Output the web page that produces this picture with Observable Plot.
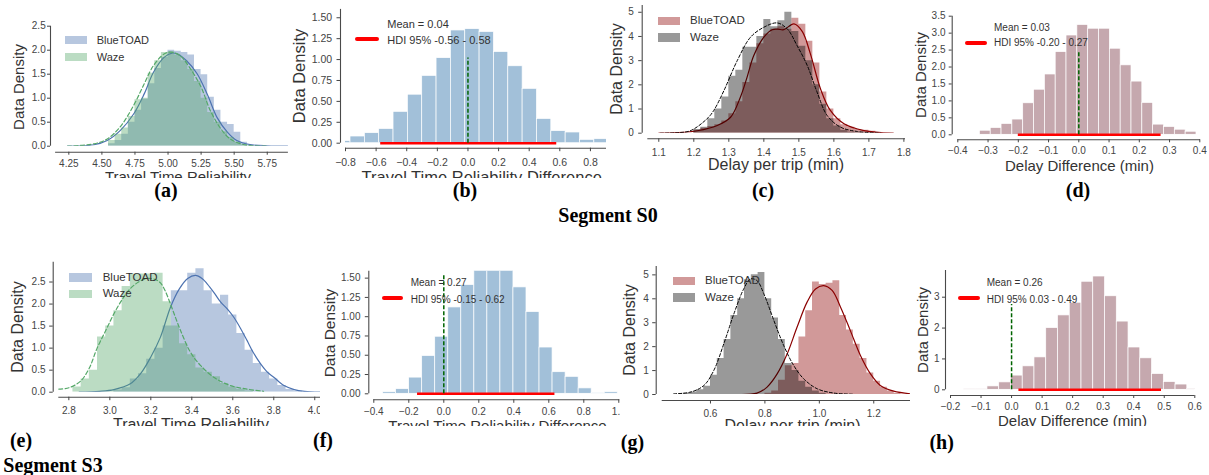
<!DOCTYPE html>
<html><head><meta charset="utf-8">
<script src="https://cdn.jsdelivr.net/npm/d3@7"></script>
<script src="https://cdn.jsdelivr.net/npm/@observablehq/plot@0.6"></script>
<style>
html,body{margin:0;padding:0;background:#fff;width:1209px;height:475px;overflow:hidden;}
#root{position:relative;width:1209px;height:475px;overflow:hidden;font-family:"Liberation Sans",Arial,Helvetica,sans-serif;}
.panel{position:absolute;overflow:hidden;}
.panel svg{position:absolute;left:0;top:0;}
.t{position:absolute;white-space:nowrap;line-height:1;color:#333;}
.sw{position:absolute;}
.cap{position:absolute;font-family:"Liberation Serif","Times New Roman",serif;font-weight:bold;font-size:20px;white-space:nowrap;line-height:1;color:#000;}
</style></head><body><div id="root"></div><script>
// ---------------- DATA ----------------
// (a) Segment S0, Travel Time Reliability
const aBinStart = 4.55, aBinWidth = 0.05;
const aBlueToadHist = [0.05,0.12,0.25,0.5,0.75,0.98,1.3,1.62,1.85,2.0,1.98,1.95,1.9,1.6,1.49,1.02,0.75,0.5,0.45,0.29,0.08,0.03];
const aWazeHist = [0.12,0.25,0.38,0.62,0.97,1.0,1.52,1.78,1.95,1.97,1.9,1.78,1.6,1.35,1.0,0.7,0.5,0.3,0.18,0.08,0.03];
const aBlueToadKdeX = [4.24,4.44,4.54,4.64,4.74,4.82,4.89,4.97,5.03,5.07,5.14,5.22,5.30,5.37,5.45,5.52,5.62,5.75,5.91];
const aBlueToadKdeY = [0,0.03,0.12,0.33,0.67,1.09,1.54,1.85,1.94,1.92,1.78,1.51,1.06,0.6,0.29,0.12,0.035,0.007,0];
const aWazeKdeX = [4.24,4.44,4.54,4.64,4.74,4.82,4.89,4.97,5.02,5.09,5.17,5.25,5.32,5.40,5.47,5.55,5.65,5.75];
const aWazeKdeY = [0,0.05,0.15,0.41,0.85,1.3,1.68,1.92,1.96,1.89,1.61,1.23,0.74,0.36,0.15,0.05,0.007,0];
const aXTicks = [4.25,4.5,4.75,5.0,5.25,5.5,5.75];
const aYTicks = [0,0.5,1,1.5,2,2.5];

// (b) Segment S0, Travel Time Reliability Difference
const bBinStart = -0.861, bBinWidth = 0.0937;
const bHist = [0.025,0.08,0.12,0.17,0.375,0.58,0.805,1.017,1.348,1.364,1.33,1.09,0.92,0.65,0.29,0.144,0.128,0.04,0.048];
const bZeroTop = 1.02;
const bHdi = [-0.57, 0.58];
const bLegend = ["Mean = 0.04", "HDI 95% -0.56 - 0.58"];
const bXTicks = [-0.8,-0.6,-0.4,-0.2,0,0.2,0.4,0.6,0.8];
const bYTicks = [0,0.25,0.5,0.75,1,1.25,1.5];

// (c) Segment S0, Delay per trip
const cBinStart = 1.20, cBinWidth = 0.02;
const cBlueToadHist = [0.12,0.2,0.28,0.35,0.5,0.8,1.3,2.1,2.9,3.7,4.1,4.3,4.4,4.3,4.75,4.5,3.8,2.9,1.7,1.0,0.6,0.35,0.25,0.15,0.12,0.08];
const cWazeHist = [0.15,0.25,0.6,1.0,1.5,2.35,2.6,3.55,3.55,4.0,4.7,4.4,4.65,5.0,4.2,3.6,3.0,2.0,1.2,0.6,0.3,0.12,0.05,0.02];
const cBlueToadKdeX = [1.1,1.15,1.21,1.267,1.305,1.333,1.352,1.371,1.4,1.424,1.44,1.457,1.486,1.51,1.533,1.562,1.59,1.629,1.686,1.77];
const cBlueToadKdeY = [0,0.02,0.1,0.32,0.66,1.49,2.31,3.2,3.97,4.28,4.3,4.28,4.52,4.2,3.28,1.83,0.94,0.39,0.11,0];
const cWazeKdeX = [1.105,1.15,1.19,1.238,1.257,1.286,1.324,1.362,1.4,1.438,1.467,1.495,1.524,1.552,1.581,1.619,1.667,1.733];
const cWazeKdeY = [0,0.02,0.1,0.6,0.94,1.76,3.0,3.97,4.38,4.56,4.31,3.62,2.8,1.7,0.73,0.25,0.07,0];
const cXTicks = [1.1,1.2,1.3,1.4,1.5,1.6,1.7,1.8];
const cYTicks = [0,1,2,3,4,5];

// (d) Segment S0, Delay Difference
const dBinStart = -0.327, dBinWidth = 0.0358;
const dHist = [0.12,0.2,0.32,0.45,0.93,1.33,1.78,2.44,2.93,3.24,3.13,3.13,2.54,2.05,1.57,0.94,0.3,0.23,0.15,0.09];
const dZeroTop = 2.44;
const dHdi = [-0.2, 0.272];
const dLegend = ["Mean = 0.03", "HDI 95% -0.20 - 0.27"];
const dXTicks = [-0.4,-0.3,-0.2,-0.1,0,0.1,0.2,0.3,0.4];
const dYTicks = [0,0.5,1,1.5,2,2.5,3,3.5];

// (e) Segment S3, Travel Time Reliability
const eWazeBinStart = 2.82, eBlueToadBinStart = 3.02, eBinWidth = 0.04;
const eWazeHist = [0.12,0.3,0.5,1.25,1.5,1.85,2.4,2.68,2.68,2.68,2.7,2.05,1.5,1.1,0.85,0.55,0.45,0.35,0.2,0.12,0.06,0.03];
const eBlueToadHist = [0.05,0.1,0.3,0.42,0.75,1.0,1.5,2.3,2.3,2.7,2.8,2.3,2.0,2.2,1.75,1.33,0.95,0.65,0.45,0.3,0.15,0.06,0.02];
const eWazeKdeX = [2.75,2.8,2.857,2.9,2.938,2.98,3.02,3.06,3.1,3.14,3.18,3.22,3.247,3.27,3.296,3.32,3.345,3.393,3.442,3.507,3.589,3.67,3.75];
const eWazeKdeY = [0.07,0.1,0.25,0.55,1.0,1.4,1.78,2.1,2.35,2.5,2.58,2.56,2.48,2.3,2.0,1.7,1.4,0.91,0.61,0.34,0.15,0.07,0.02];
const eBlueToadKdeX = [2.85,2.95,3.02,3.1,3.15,3.2,3.247,3.296,3.34,3.38,3.418,3.45,3.475,3.51,3.54,3.575,3.605,3.64,3.67,3.7,3.735,3.77,3.8,3.85,3.9,3.95,4.03];
const eBlueToadKdeY = [0,0.02,0.06,0.19,0.42,0.8,1.25,1.93,2.35,2.58,2.65,2.58,2.46,2.25,2.05,1.88,1.7,1.43,1.17,0.9,0.65,0.45,0.34,0.15,0.06,0.02,0];
const eXTicks = [2.8,3.0,3.2,3.4,3.6,3.8,4.0];
const eYTicks = [0,0.5,1,1.5,2,2.5];

// (f) Segment S3, Travel Time Reliability Difference
const fBinStart = -0.347, fBinWidth = 0.0745;
const fHist = [0.02,0.06,0.21,0.49,0.74,1.12,1.41,1.7,1.75,1.68,1.38,1.06,0.6,0.28,0.22,0.07,0.01,0.02];
const fZeroTop = 1.55;
const fHdi = [-0.15, 0.635];
const fLegend = ["Mean = 0.27", "HDI 95% -0.15 - 0.62"];
const fXTicks = [-0.4,-0.2,0,0.2,0.4,0.6,0.8,1.0];
const fYTicks = [0,0.25,0.5,0.75,1,1.25,1.5];

// (g) Segment S3, Delay per trip
const gWazeBinStart = 0.50, gBlueToadBinStart = 0.80, gBinWidth = 0.025;
const gWazeHist = [0.05,0.1,0.2,0.35,0.8,1.5,2.3,3.3,4.0,4.8,5.0,5.1,4.0,3.2,2.3,1.3,1.0,0.55,0.3,0.15,0.05];
const gBlueToadHist = [0.05,0.15,0.6,1.2,1.3,2.4,3.5,4.7,4.6,4.65,4.75,3.3,2.7,2.1,1.5,0.9,0.55,0.3,0.15,0.05];
const gWazeKdeX = [0.465,0.527,0.576,0.612,0.649,0.686,0.722,0.747,0.771,0.796,0.833,0.869,0.906,0.943,0.992,1.053,1.127];
const gWazeKdeY = [0.03,0.1,0.38,1.0,2.12,3.37,4.41,4.83,4.76,4.21,3.09,2.05,1.21,0.65,0.24,0.06,0.01];
const gBlueToadKdeX = [0.673,0.771,0.808,0.845,0.882,0.918,0.955,0.986,1.016,1.047,1.078,1.114,1.151,1.188,1.224,1.273,1.335];
const gBlueToadKdeY = [0,0.06,0.31,0.86,1.7,2.81,3.86,4.41,4.55,4.35,3.65,2.67,1.63,0.86,0.38,0.14,0.03];
const gXTicks = [0.6,0.8,1.0,1.2];
const gYTicks = [0,1,2,3,4,5];

// (h) Segment S3, Delay Difference
const hBinStart = -0.156, hBinWidth = 0.0385;
const hHist = [0.02,0.02,0.11,0.24,0.46,0.76,1.05,2.0,2.41,2.82,3.5,3.67,3.03,2.21,1.37,1.02,0.51,0.25,0.17,0.03];
const hZeroTop = 2.76;
const hHdi = [0.024, 0.491];
const hLegend = ["Mean = 0.26", "HDI 95% 0.03 - 0.49"];
const hXTicks = [-0.2,-0.1,0,0.1,0.2,0.3,0.4,0.5,0.6];
const hYTicks = [0,1,2,3];

const seriesNames = ["BlueTOAD", "Waze"];

// ---------------- STYLE ----------------
const FONT = '"Liberation Sans", Arial, Helvetica, sans-serif';
const AXIS = "#4a4a4a", TICK = "#444";
const BLUE = "#4c72b0", GREEN = "#55a868", DARKRED = "#8b0000", BLACK = "#000";
const STEEL = "#4682b4", MAUVE = "#c5a8ae";

const root = document.getElementById("root");
const bins = (start, width, hs) => hs.map((h, i) => ({x1: start + i * width, x2: start + (i + 1) * width, y: h}));
const steps = (start, width, hs) => hs.map((h, i) => ({x: start + i * width, y: h})).concat([{x: start + hs.length * width, y: 0}]);
const pts = (xs, ys) => xs.map((x, i) => ({x, y: ys[i]}));

// overlapping density histograms: one seamless stepped area per series
function stepHist(data, fill, opacity) {
  return Plot.areaY(data, {x: "x", y: "y", curve: "step-after", fill, fillOpacity: opacity, clip: true});
}
// difference histograms: bars with thin white edges
function barHist(data, fill, opacity) {
  return Plot.rectY(data, {x1: "x1", x2: "x2", y: "y", fill, fillOpacity: opacity, stroke: "white", strokeWidth: 0.7, clip: true});
}
function kde(data, stroke, dash, w) {
  return Plot.line(data, {x: "x", y: "y", stroke, strokeWidth: w, strokeDasharray: dash, curve: "catmull-rom", clip: true});
}
function diffMarks(data, zeroTop, hdi, fill, opacity) {
  return [
    barHist(data, fill, opacity),
    Plot.ruleY([0], {x1: hdi[0], x2: hdi[1], stroke: "red", strokeWidth: 2.5}),
    Plot.ruleX([0], {y1: 0, y2: zeroTop, stroke: "darkgreen", strokeWidth: 1.5, strokeDasharray: "4,2"})
  ];
}

function addText(div, L, T, str, x, y, size, mode) {
  const e = document.createElement("div");
  e.className = "t";
  e.textContent = str;
  e.style.fontSize = size + "px";
  e.style.left = (x - L) + "px";
  e.style.top = (y - T) + "px";
  if (mode === "center") e.style.transform = "translate(-50%,-50%)";
  else if (mode === "rot") e.style.transform = "translate(-50%,-50%) rotate(-90deg)";
  else e.style.transform = "translate(0,-50%)";
  div.appendChild(e);
}
function addSwatch(div, L, T, x0, x1, y0, y1, color, round) {
  const e = document.createElement("div");
  e.className = "sw";
  e.style.cssText = `left:${x0 - L}px;top:${y0 - T}px;width:${x1 - x0}px;height:${y1 - y0}px;background:${color};` + (round ? "border-radius:3px;" : "");
  div.appendChild(e);
}

function makePanel(c) {
  const [L, T, W, H] = c.box;
  const [px0, px1, py0, py1] = c.area;
  const div = document.createElement("div");
  div.className = "panel";
  div.style.cssText = `left:${L}px;top:${T}px;width:${W}px;height:${H}px;`;
  const svg = Plot.plot({
    width: W, height: H,
    marginLeft: px0 - L, marginRight: L + W - px1, marginTop: py1 - T, marginBottom: T + H - py0,
    x: {domain: c.xDomain}, y: {domain: c.yDomain},
    style: {background: "transparent", fontFamily: FONT, overflow: "visible"},
    marks: [
      ...c.marks,
      Plot.ruleX([c.xDomain[0]], {y1: c.yDomain[0], y2: c.yDomain[1], dx: -c.offL, stroke: AXIS, strokeWidth: 1.1}),
      Plot.ruleY([c.yDomain[0]], {x1: c.xDomain[0], x2: c.xDomain[1], dy: c.offB, stroke: AXIS, strokeWidth: 1.1}),
      Plot.axisY(c.yTicks, {anchor: "left", dx: -c.offL, tickSize: c.tick, tickPadding: c.yPad, tickFormat: d3.format(c.yFmt), fontSize: c.font, color: TICK, label: null}),
      Plot.axisX(c.xTicks, {anchor: "bottom", dy: c.offB, tickSize: c.tick, tickPadding: c.xPad, tickFormat: d3.format(c.xFmt), fontSize: c.font, color: TICK, label: null})
    ]
  });
  div.appendChild(svg);
  addText(div, L, T, "Data Density", c.yLab[0], c.yLab[1], c.yLab[2], "rot");
  addText(div, L, T, c.xLabel, c.xLab[0], c.xLab[1], c.xLab[2], "center");
  if (c.legend) c.legend(div, L, T);
  root.appendChild(div);
}

function seriesLegend(colors, x0, x1, ys, tx, size) {
  return (div, L, T) => {
    ys.forEach((yy, i) => {
      addSwatch(div, L, T, x0, x1, yy[0], yy[1], colors[i], false);
      addText(div, L, T, seriesNames[i], tx, (yy[0] + yy[1]) / 2, size, "left");
    });
  };
}
function diffLegend(lines, sx0, sx1, sy, tx, ty0, ty1, size) {
  return (div, L, T) => {
    addSwatch(div, L, T, sx0, sx1, sy - 2, sy + 2, "red", true);
    addText(div, L, T, lines[0], tx, ty0, size, "left");
    addText(div, L, T, lines[1], tx, ty1, size, "left");
  };
}

// ---------------- PANELS ----------------
makePanel({
  box: [0, 0, 290, 178], area: [55.1, 287.9, 145.7, 25.7],
  xDomain: [4.15, 5.91], yDomain: [0, 2.5], offL: 5.1, offB: 6,
  xTicks: aXTicks, yTicks: aYTicks, xFmt: ".2f", yFmt: ".1f", font: 10, tick: 3, xPad: 5, yPad: 1.8,
  marks: [
    stepHist(steps(aBinStart, aBinWidth, aBlueToadHist), BLUE, 0.4),
    kde(pts(aBlueToadKdeX, aBlueToadKdeY), BLUE, null, 1.2),
    stepHist(steps(aBinStart, aBinWidth, aWazeHist), GREEN, 0.4),
    kde(pts(aWazeKdeX, aWazeKdeY), GREEN, "4,2.5", 1.2)
  ],
  xLabel: "Travel Time Reliability", yLab: [18, 87, 15], xLab: [178, 176.3, 15],
  legend: seriesLegend(["#b7c7df", "#bbdcc3"], 65, 87.3, [[36, 44], [52.7, 60.7]], 96.7, 11)
});
makePanel({
  box: [290, 0, 318, 178], area: [345, 606, 142.7, 8.9],
  xDomain: [-0.8, 0.905], yDomain: [0, 1.6], offL: 5, offB: 5,
  xTicks: bXTicks, yTicks: bYTicks, xFmt: ".1f", yFmt: ".2f", font: 10.5, tick: 3.5, xPad: 7, yPad: 4.8,
  marks: diffMarks(bins(bBinStart, bBinWidth, bHist), bZeroTop, bHdi, STEEL, 0.5),
  xLabel: "Travel Time Reliability Difference", yLab: [299.3, 75.8, 16.5], xLab: [481.7, 176.8, 16.5],
  legend: diffLegend(bLegend, 355, 379, 39.3, 387.3, 24, 40, 11)
});
makePanel({
  box: [608, 0, 304, 180], area: [647.3, 905, 132.7, 5],
  xDomain: [1.0686, 1.8046], yDomain: [0, 5.28], offL: 5.6, offB: 5.6,
  xTicks: cXTicks, yTicks: cYTicks, xFmt: ".1f", yFmt: "d", font: 10, tick: 3.5, xPad: 6.3, yPad: 4.9,
  marks: [
    stepHist(steps(cBinStart, cBinWidth, cBlueToadHist), DARKRED, 0.4),
    kde(pts(cBlueToadKdeX, cBlueToadKdeY), DARKRED, null, 1.2),
    stepHist(steps(cBinStart, cBinWidth, cWazeHist), BLACK, 0.4),
    kde(pts(cWazeKdeX, cWazeKdeY), BLACK, "3,2", 1)
  ],
  xLabel: "Delay per trip (min)", yLab: [616.7, 69, 16], xLab: [776, 165.2, 16],
  legend: seriesLegend(["#d19999", "#999999"], 658.3, 680, [[16.7, 25], [33.3, 41.7]], 690, 11.5)
});
makePanel({
  box: [912, 0, 297, 180], area: [957.3, 1200, 134.3, 15.7],
  xDomain: [-0.4, 0.4023], yDomain: [0, 3.5], offL: 5.6, offB: 5,
  xTicks: dXTicks, yTicks: dYTicks, xFmt: ".1f", yFmt: ".1f", font: 10, tick: 3, xPad: 4, yPad: 3.7,
  marks: diffMarks(bins(dBinStart, dBinWidth, dHist), dZeroTop, dHdi, MAUVE, 1),
  xLabel: "Delay Difference (min)", yLab: [920, 75, 15], xLab: [1079.5, 164.9, 15],
  legend: diffLegend(dLegend, 965, 987, 42.7, 994, 28, 43, 10)
});
makePanel({
  box: [0, 230, 320, 196], area: [58.3, 320, 391.7, 261.7],
  xDomain: [2.751, 4.028], yDomain: [0, 2.95], offL: 5.6, offB: 5,
  xTicks: eXTicks, yTicks: eYTicks, xFmt: ".1f", yFmt: ".1f", font: 10, tick: 3.5, xPad: 6.2, yPad: 4.2,
  marks: [
    stepHist(steps(eBlueToadBinStart, eBinWidth, eBlueToadHist), BLUE, 0.4),
    kde(pts(eBlueToadKdeX, eBlueToadKdeY), BLUE, null, 1.2),
    stepHist(steps(eWazeBinStart, eBinWidth, eWazeHist), GREEN, 0.4),
    kde(pts(eWazeKdeX, eWazeKdeY), GREEN, "4,2.5", 1.2)
  ],
  xLabel: "Travel Time Reliability", yLab: [18.3, 326.7, 16], xLab: [191, 425.2, 16],
  legend: seriesLegend(["#b7c7df", "#bbdcc3"], 69.3, 91.7, [[273.3, 281.7], [290, 298.3]], 102.7, 11.5)
});
makePanel({
  box: [320, 230, 300, 196], area: [373.3, 619.3, 393.3, 270.7],
  xDomain: [-0.4, 1.0057], yDomain: [0, 1.59], offL: 5, offB: 6,
  xTicks: fXTicks, yTicks: fYTicks, xFmt: ".1f", yFmt: ".2f", font: 10, tick: 3.5, xPad: 5, yPad: 4.8,
  marks: diffMarks(bins(fBinStart, fBinWidth, fHist), fZeroTop, fHdi, STEEL, 0.5),
  xLabel: "Travel Time Reliability Difference", yLab: [330, 332.5, 15.5], xLab: [497.5, 425, 15],
  legend: diffLegend(fLegend, 381.7, 403.3, 298.3, 410.7, 283.3, 300, 10)
});
makePanel({
  box: [620, 230, 292, 196], area: [661.7, 910, 394, 266],
  xDomain: [0.4226, 1.335], yDomain: [0, 5.35], offL: 6, offB: 6,
  xTicks: gXTicks, yTicks: gYTicks, xFmt: ".1f", yFmt: "d", font: 10, tick: 3.5, xPad: 5.6, yPad: 3.9,
  marks: [
    stepHist(steps(gBlueToadBinStart, gBinWidth, gBlueToadHist), DARKRED, 0.4),
    kde(pts(gBlueToadKdeX, gBlueToadKdeY), DARKRED, null, 1.2),
    stepHist(steps(gWazeBinStart, gBinWidth, gWazeHist), BLACK, 0.4),
    kde(pts(gWazeKdeX, gWazeKdeY), BLACK, "3,2", 1)
  ],
  xLabel: "Delay per trip (min)", yLab: [630, 330, 16], xLab: [792.5, 426, 16],
  legend: seriesLegend(["#d19999", "#999999"], 672.7, 695, [[276.7, 285], [293.3, 301.7]], 705, 11.5)
});
makePanel({
  box: [912, 230, 297, 196], area: [950, 1194.3, 389.3, 270],
  xDomain: [-0.2, 0.6], yDomain: [0, 3.865], offL: 5, offB: 5.7,
  xTicks: hXTicks, yTicks: hYTicks, xFmt: ".1f", yFmt: "d", font: 10, tick: 3, xPad: 4.4, yPad: 3,
  marks: diffMarks(bins(hBinStart, hBinWidth, hHist), hZeroTop, hHdi, MAUVE, 1),
  xLabel: "Delay Difference (min)", yLab: [921.7, 330, 15], xLab: [1072.5, 419.6, 15],
  legend: diffLegend(hLegend, 958.3, 980, 297.7, 986.7, 283.3, 300, 10)
});

// ---------------- CAPTIONS ----------------
const captions = [
  ["(a)", 166, 190, "c"], ["(b)", 465, 190, "c"], ["(c)", 763, 190, "c"], ["(d)", 1078, 190, "c"],
  ["Segment S0", 608, 215, "c"],
  ["(e)", 21, 440, "c"], ["(f)", 323, 440, "c"], ["(g)", 632.5, 441.7, "c"], ["(h)", 941.7, 441.7, "c"],
  ["Segment S3", 3.3, 465, "l"]
];
captions.forEach(([s, x, y, m]) => {
  const e = document.createElement("div");
  e.className = "cap";
  e.textContent = s;
  e.style.left = x + "px";
  e.style.top = y + "px";
  e.style.transform = m === "c" ? "translate(-50%,-50%)" : "translate(0,-50%)";
  root.appendChild(e);
});
</script></body></html>
